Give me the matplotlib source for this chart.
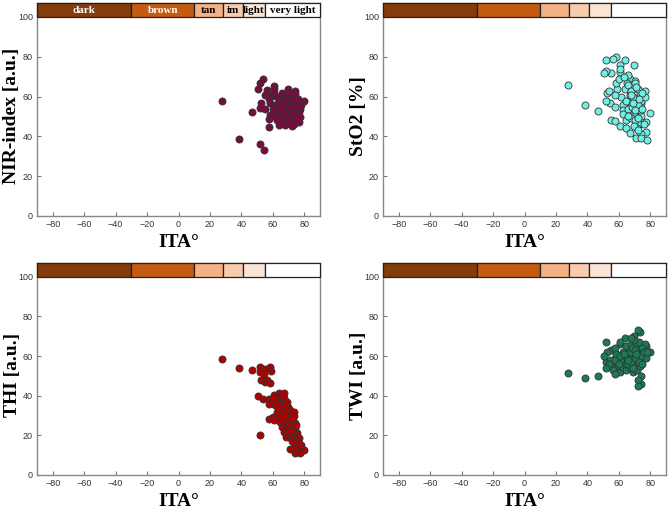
import matplotlib
matplotlib.use("Agg")
import matplotlib.pyplot as plt
from matplotlib.patches import Rectangle

ita = [27.6, 38.7, 46.8, 51.6, 54.8, 58.4, 58.6, 51.6, 54.1, 52.5, 54.8, 56.5, 58.2, 50.8, 53.7, 57.3, 57.8,
       60.5, 63.7, 66.9, 62.6, 65.2, 66.9, 60.5, 63.7, 65.9, 61.2, 64.4, 67.3, 69.5, 62.6, 65.9, 67.9, 71.1, 73.3,
       60.1, 62.6, 57.3, 60.5, 64.8, 67.9, 71.1, 73.7, 64.8, 67.9, 70.5, 73.0, 65.9, 69.0, 72.2, 74.3, 67.3, 70.5,
       73.3, 75.4, 68.6, 71.8, 74.3, 76.4, 71.1, 74.3, 77.1, 79.6, 73.3, 76.4, 77.5, 74.3, 52.0,
       69.5, 72.5, 66, 70, 74, 68, 72, 75, 70, 76, 63, 61, 69, 71, 73, 66, 75, 78, 72, 68]

nir = [58, 38.5, 52.4, 66.7, 61, 57, 60.5, 36, 33, 56.6, 54, 63.5, 50.8, 63.8, 68.8, 48.6, 44.6,
       65.3, 58, 55, 52, 60, 50, 62, 45.7, 61.6, 56, 54, 58, 63.8, 48, 52, 45.7, 46.6, 55,
       54, 60, 59, 50, 57, 53, 59, 51, 49, 61, 55, 48, 57, 50, 61, 63, 52, 57,
       53.3, 58, 54, 49, 56, 47.4, 60, 52, 54, 57.6, 46, 52, 49.9, 61.5, 54.1,
       56, 53, 47, 62, 50, 59, 52, 55, 48, 59, 56, 64, 52, 55, 58, 53, 49, 56, 45, 51]

sto2 = [66, 56, 52.5, 78.4, 72, 80, 64, 73, 57, 62, 48, 79, 66.7, 71.7, 63, 55, 47.9,
        76, 78.4, 69, 56, 67, 58, 72.5, 64, 52, 60, 48, 61, 75.9, 53, 66, 56, 59, 62,
        69, 51, 61, 45, 58, 63, 51, 55, 44, 49, 68, 46, 54, 60, 64, 57, 41.9, 48,
        52, 61, 55, 44, 50, 63, 39, 58, 47, 51.5, 53, 60, 42, 41.3, 58,
        45, 56, 71, 67, 39, 63, 49, 62, 53, 46, 70, 74, 57, 65, 59, 50, 54, 38, 43, 61]

thi = [58.6, 54, 53, 54.4, 53.5, 54.7, 52.5, 52.2, 50.8, 48, 47.1, 48.1, 46.3, 39.9, 38.4, 38.5, 35.7,
       40.4, 41.6, 41.6, 38.7, 39, 38.7, 37, 36.7, 36.2, 35.4, 34.8, 35.4, 34.5, 32, 32, 32.8, 32.8, 32,
       29.4, 28.6, 28.3, 27.8, 30.3, 30, 30.3, 30, 26.9, 27.3, 26.6, 26.9, 24.4, 23.9, 24.4, 23.9, 21.9, 21.5,
       21.5, 21.1, 19.3, 18.8, 19.3, 18.5, 13.1, 12.1, 13.1, 12.6, 16, 15.5, 11, 11, 20.2,
       28, 28, 33, 25, 26, 31, 23, 25, 20, 17, 34, 39, 37, 22, 18, 29, 14, 15, 17, 35]

twi = [51.5, 49, 50, 57, 63, 60, 55, 67, 58, 62, 55, 53, 61, 60, 56, 64, 58,
       66, 59, 62, 57, 63, 55, 52, 69, 60, 58, 65, 57, 70, 54, 61, 59, 64, 56,
       56, 62, 51, 60, 53, 66, 58, 63, 56, 54, 61, 67, 58, 52, 57, 59, 62, 55,
       72, 60, 64, 53, 57, 61, 58, 50, 65, 62, 55, 66, 59, 46, 54,
       68, 73, 56, 63, 60, 57, 48, 64, 59, 62, 61, 67, 54, 61, 57, 58, 56, 62, 45, 69]

band_edges = [-90, -30, 10, 28, 41, 55, 90]
band_colors = ['#843c0c', '#c55a11', '#f4b183', '#f8cbad', '#fbe5d6', '#ffffff']
band_labels = ['dark', 'brown', 'tan', 'im', 'light', 'very light']
band_text_colors = ['white', 'white', 'black', 'black', 'black', 'black']

panels = [
    (nir, 'NIR-index [a.u.]', '#7b0a3e', True),
    (sto2, 'StO2 [%]', '#6ff0e6', False),
    (thi, 'THI [a.u.]', '#b00000', False),
    (twi, 'TWI [a.u.]', '#1e7a56', False),
]

W, H = 669, 509
fig = plt.figure(figsize=(W / 100, H / 100), dpi=100)
boxes = [
    (37, 3, 320, 216),
    (383, 3, 666, 216),
    (37, 263, 320, 475),
    (383, 263, 666, 475),
]

serif = ['Liberation Serif', 'DejaVu Serif']
sans = ['Liberation Sans', 'DejaVu Sans']

for (vals, ylab, col, show_text), (l, t, r, b) in zip(panels, boxes):
    ax = fig.add_axes([l / W, 1 - b / H, (r - l) / W, (b - t) / H])
    ax.set_xlim(-90, 90)
    ax.set_ylim(0, 107)
    for i in range(len(band_colors)):
        x0, x1 = band_edges[i], band_edges[i + 1]
        ax.add_patch(Rectangle((x0, 100), x1 - x0, 7, facecolor=band_colors[i],
                               edgecolor='#222222', linewidth=0.9, zorder=3, clip_on=False))
        if show_text:
            ax.text((x0 + x1) / 2, 103.3, band_labels[i], ha='center', va='center',
                    fontsize=8, fontweight='bold', family=serif,
                    color=band_text_colors[i], zorder=4)
    ax.scatter(ita, vals, s=26, c=col, edgecolors='#333333', linewidths=0.6, zorder=5)
    ax.set_xticks([-80, -60, -40, -20, 0, 20, 40, 60, 80])
    ax.set_yticks([0, 20, 40, 60, 80, 100])
    ax.tick_params(direction='in', length=3, width=0.8, color='#777777',
                   labelsize=6.5, labelcolor='#333333', pad=3)
    for lab in ax.get_xticklabels() + ax.get_yticklabels():
        lab.set_family(sans)
    for sp in ax.spines.values():
        sp.set_color('#888888')
        sp.set_linewidth(1.0)
    ax.set_xlabel('ITA°', fontsize=14, fontweight='bold', family=serif, va='center')
    ax.set_ylabel(ylab, fontsize=14, fontweight='bold', family=serif, va='center')
    ax.xaxis.set_label_coords(0.5, -27 / (b - t))
    ax.yaxis.set_label_coords(-25 / (r - l), 0.47)

fig.savefig('out.png', dpi=100)
